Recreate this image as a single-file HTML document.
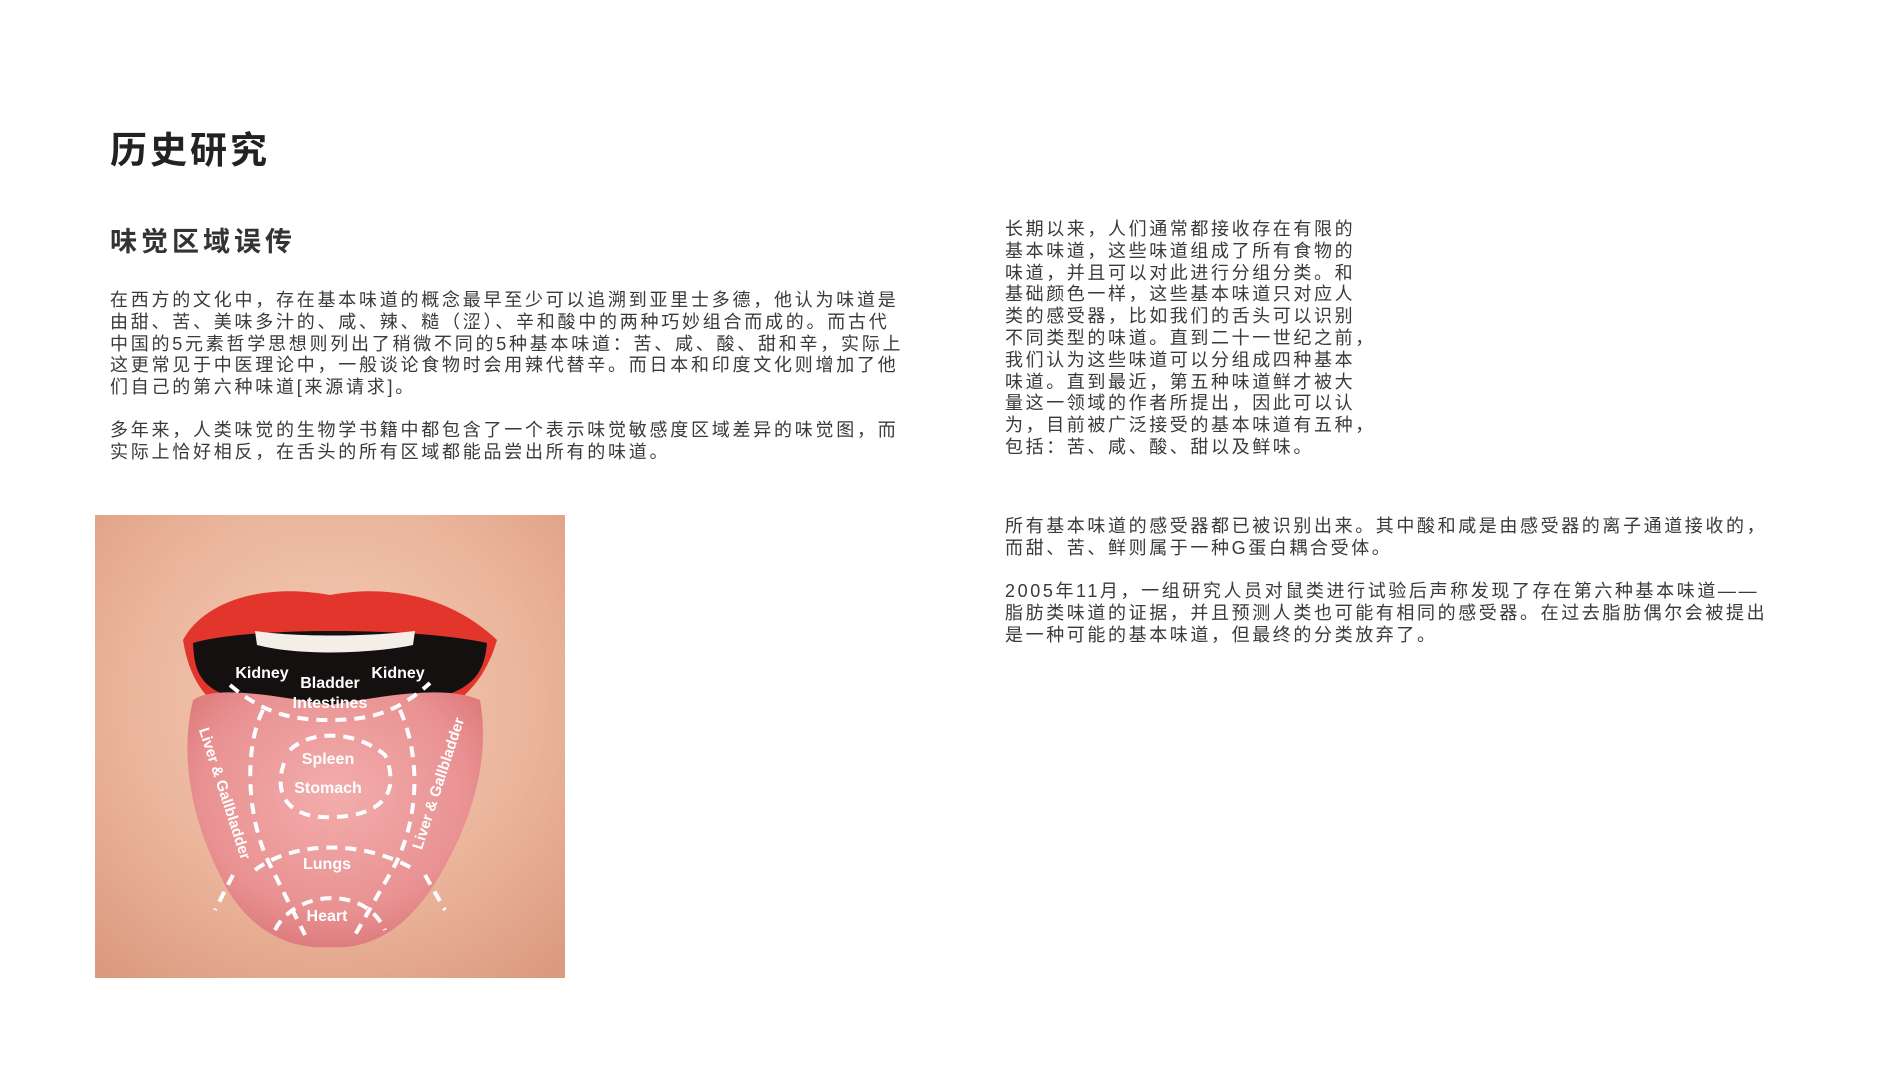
<!DOCTYPE html>
<html><head><meta charset="utf-8">
<style>
body{margin:0;width:1900px;height:1069px;background:#fff;position:relative;overflow:hidden;font-family:"Liberation Sans","Noto Sans CJK SC",sans-serif;color:#3a3a3a}
.t{position:absolute;margin:0}
.p{font-size:18px;line-height:21.8px;letter-spacing:2.6px;white-space:nowrap}
</style></head><body>
<h1 class="t" style="left:110px;top:120px;font-size:37px;font-weight:bold;letter-spacing:3px;color:#222">历史研究</h1>
<h2 class="t" style="left:110px;top:220px;font-size:27px;font-weight:bold;letter-spacing:4px;color:#333">味觉区域误传</h2>
<div class="t p" style="left:110px;top:290px;letter-spacing:2.75px">在西方的文化中，存在基本味道的概念最早至少可以追溯到亚里士多德，他认为味道是<br>由甜、苦、美味多汁的、咸、辣、糙（涩）、辛和酸中的两种巧妙组合而成的。而古代<br>中国的5元素哲学思想则列出了稍微不同的5种基本味道：苦、咸、酸、甜和辛，实际上<br>这更常见于中医理论中，一般谈论食物时会用辣代替辛。而日本和印度文化则增加了他<br>们自己的第六种味道[来源请求]。</div>
<div class="t p" style="left:110px;top:420px;letter-spacing:2.75px">多年来，人类味觉的生物学书籍中都包含了一个表示味觉敏感度区域差异的味觉图，而<br>实际上恰好相反，在舌头的所有区域都能品尝出所有的味道。</div>
<div class="t p" style="left:1005px;top:219px">长期以来，人们通常都接收存在有限的<br>基本味道，这些味道组成了所有食物的<br>味道，并且可以对此进行分组分类。和<br>基础颜色一样，这些基本味道只对应人<br>类的感受器，比如我们的舌头可以识别<br>不同类型的味道。直到二十一世纪之前，<br>我们认为这些味道可以分组成四种基本<br>味道。直到最近，第五种味道鲜才被大<br>量这一领域的作者所提出，因此可以认<br>为，目前被广泛接受的基本味道有五种，<br>包括：苦、咸、酸、甜以及鲜味。</div>
<div class="t p" style="left:1005px;top:516px">所有基本味道的感受器都已被识别出来。其中酸和咸是由感受器的离子通道接收的，<br>而甜、苦、鲜则属于一种G蛋白耦合受体。</div>
<div class="t p" style="left:1005px;top:581px">2005年11月，一组研究人员对鼠类进行试验后声称发现了存在第六种基本味道——<br>脂肪类味道的证据，并且预测人类也可能有相同的感受器。在过去脂肪偶尔会被提出<br>是一种可能的基本味道，但最终的分类放弃了。</div>

<svg style="position:absolute;left:95px;top:515px" width="470" height="463" viewBox="0 0 470 463">
<defs>
<radialGradient id="skin" cx="50%" cy="40%" r="75%"><stop offset="0" stop-color="#f4cdb6"/><stop offset="0.6" stop-color="#eab49a"/><stop offset="1" stop-color="#dc9a80"/></radialGradient>
<radialGradient id="tg" cx="50%" cy="40%" r="65%"><stop offset="0" stop-color="#f2aeac"/><stop offset="0.7" stop-color="#e99192"/><stop offset="1" stop-color="#db7577"/></radialGradient>
</defs>
<rect width="470" height="463" fill="url(#skin)"/>
<path d="M88 125 C110 85 170 68 235 80 C300 68 360 85 402 125 C380 200 320 215 235 215 C150 215 100 200 88 125Z" fill="#e2352c"/>
<path d="M98 128 C150 112 320 112 392 128 C388 170 370 190 235 195 C110 190 100 170 98 128Z" fill="#141010"/>
<path d="M160 116 C200 122 270 122 320 116 L318 130 C270 140 200 140 162 130Z" fill="#f3eee8"/>
<path d="M98 185 C120 170 175 180 235 190 C295 180 350 170 385 185 C395 240 380 300 345 360 C310 420 270 435 233 432 C195 435 150 415 125 360 C95 300 85 240 98 185Z" fill="url(#tg)"/>
<g fill="none" stroke="#fff" stroke-width="4" stroke-dasharray="11 8">
<path d="M135 170 C170 200 200 205 235 205 C270 205 300 200 335 168"/>
<path d="M168 195 C150 230 150 300 175 350 L210 420"/>
<path d="M305 195 C325 240 325 300 300 350 L260 420"/>
<path d="M195 235 C215 215 260 215 290 240 C305 275 290 300 240 302 C200 305 175 285 190 245"/>
<path d="M160 355 C200 325 270 325 320 355"/>
<path d="M180 415 C200 375 270 370 290 415"/>
<path d="M138 360 L120 395"/><path d="M330 360 L350 395"/>
</g>
<g fill="#fff" font-family="Liberation Sans,sans-serif" font-weight="bold" font-size="16" text-anchor="middle">
<text x="167" y="163">Kidney</text><text x="303" y="163">Kidney</text>
<text x="235" y="173">Bladder</text><text x="235" y="193">Intestines</text>
<text x="233" y="249">Spleen</text><text x="233" y="278">Stomach</text>
<text x="232" y="354">Lungs</text><text x="232" y="406">Heart</text>
<text transform="translate(125 280) rotate(72)" font-size="15">Liver &amp; Gallbladder</text>
<text transform="translate(348 270) rotate(-72)" font-size="15">Liver &amp; Gallbladder</text>
</g>
</svg>
</body></html>
